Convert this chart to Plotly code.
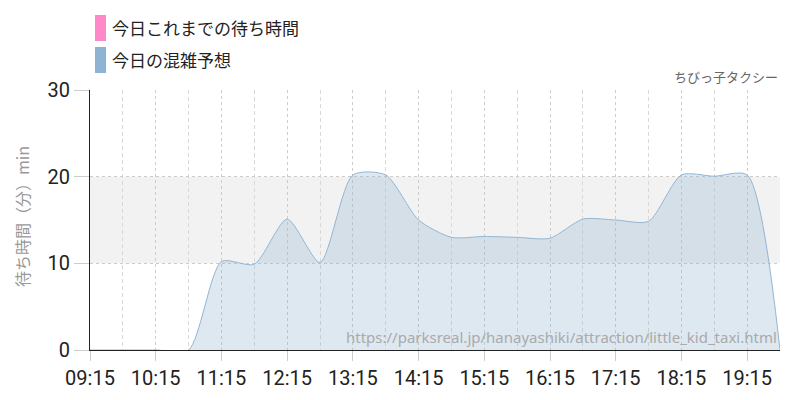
import plotly.graph_objects as go

times = ["09:15", "09:45", "10:15", "10:45", "11:15", "11:45", "12:15", "12:45",
         "13:15", "13:45", "14:15", "14:45", "15:15", "15:45", "16:15", "16:45",
         "17:15", "17:45", "18:15", "18:45", "19:15", "19:45"]
forecast = [0, 0, 0, 0, 10.2, 9.9, 15.1, 10.1,
            20.2, 20.2, 15.0, 13.0, 13.1, 13.0, 12.9, 15.1,
            15.0, 14.85, 20.2, 20.05, 20.2, 0]
today_actual = []  # 今日これまでの待ち時間 (no data yet)

legend_labels = ["今日これまでの待ち時間", "今日の混雑予想"]
legend_colors = ["#ff88c8", "#8fb3d2"]
attraction = "ちびっ子タクシー"
source_url = "https://parksreal.jp/hanayashiki/attraction/little_kid_taxi.html"
y_title = "待ち時間（分）min"

day = "2024-01-01 "
xs = [day + t for t in times]

TICK_FONT = "Roboto, sans-serif"
JP_FONT = "Noto Sans CJK JP, Noto Sans, sans-serif"

fig = go.Figure()
fig.add_trace(go.Scatter(
    x=xs, y=forecast, mode="lines",
    line=dict(color="#93b6d4", width=1, shape="spline", smoothing=0.7),
    fill="tozeroy", fillcolor="rgba(143,179,210,0.3)",
    showlegend=False, hoverinfo="skip",
))
fig.add_trace(go.Scatter(
    x=[day + t for t in times[:len(today_actual)]], y=today_actual, mode="lines",
    line=dict(color=legend_colors[0], width=2), showlegend=False,
))

fig.add_shape(type="rect", xref="paper", x0=0, x1=1, yref="y", y0=10, y1=20,
              fillcolor="#f2f2f2", line=dict(width=0), layer="below")

def px_x(px):
    return (px - 90) / 690

def px_y(py):
    return (350 - py) / 260

for i, (lab, col) in enumerate(zip(legend_labels, legend_colors)):
    top = 15 + 32 * i
    fig.add_shape(type="rect", xref="paper", yref="paper",
                  x0=px_x(95), x1=px_x(106), y0=px_y(top + 26), y1=px_y(top),
                  fillcolor=col, line=dict(width=0))
    fig.add_annotation(xref="paper", yref="paper", x=px_x(110), y=px_y(top + 13),
                       text=lab, showarrow=False, xanchor="left", yanchor="middle",
                       font=dict(family=JP_FONT, size=17, color="#222"))

fig.add_annotation(xref="paper", yref="paper", x=1, y=px_y(77),
                   text=attraction, showarrow=False, xanchor="right", yanchor="middle",
                   font=dict(family=JP_FONT, size=13, color="#666"))
fig.add_annotation(xref="paper", yref="paper", x=px_x(779), y=px_y(337),
                   text=source_url, showarrow=False, xanchor="right", yanchor="middle",
                   font=dict(family="Noto Sans, Open Sans, sans-serif", size=15, color="#aaa"))
fig.add_annotation(xref="paper", yref="paper", x=px_x(22), y=px_y(217),
                   text=y_title, showarrow=False, textangle=-90,
                   xanchor="center", yanchor="middle",
                   font=dict(family=JP_FONT, size=16, color="#999"))

fig.update_layout(
    width=800, height=400,
    margin=dict(l=90, r=20, t=90, b=50, autoexpand=False),
    paper_bgcolor="white", plot_bgcolor="white",
    showlegend=False,
    xaxis=dict(
        type="date", automargin=False,
        range=[day + "09:15", day + "19:45"],
        tick0=day + "09:15", dtick=3600000, tickformat="%H:%M",
        ticks="outside", ticklen=10, tickcolor="#ccc",
        showgrid=True, gridcolor="#ccc", griddash="dot", gridwidth=1,
        minor=dict(dtick=1800000, tick0=day + "09:15", showgrid=True,
                   gridcolor="#d8d8d8", griddash="4px,3px", ticks=""),
        showline=True, linecolor="#222", linewidth=1,
        tickfont=dict(family=TICK_FONT, size=20, color="#222"),
        zeroline=False,
    ),
    yaxis=dict(
        automargin=False,
        range=[0, 30], dtick=10, tick0=0,
        ticks="outside", ticklen=15, tickcolor="#ccc",
        showgrid=True, gridcolor="#ccc", griddash="dot",
        showline=True, linecolor="#222", linewidth=1,
        zeroline=False,
        tickfont=dict(family=TICK_FONT, size=20, color="#222"),
    ),
)

fig.write_html("out.html", config={"displayModeBar": False},
               post_script="document.body.style.margin='0';")
